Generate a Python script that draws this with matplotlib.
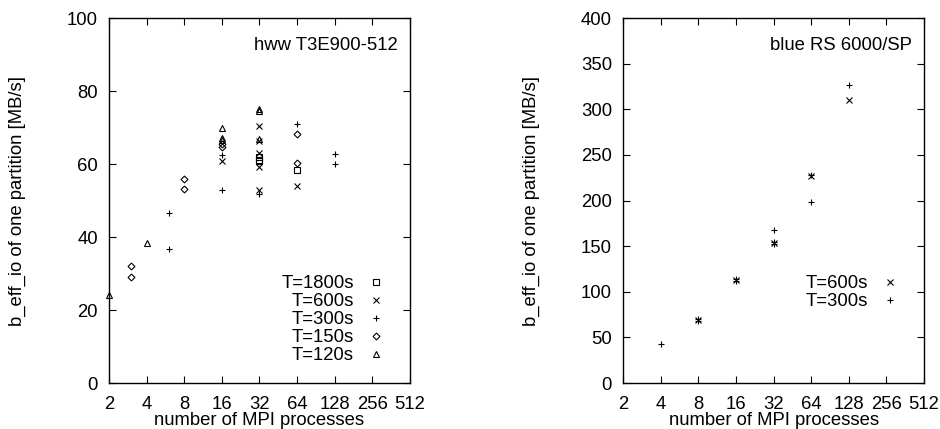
import matplotlib
matplotlib.use('Agg')
import matplotlib.pyplot as plt

plt.rcParams['font.family'] = ['Liberation Sans', 'DejaVu Sans']
plt.rcParams['font.size'] = 13.3

# left panel: hww T3E900-512
t1800_x = [32, 32, 32, 64]
t1800_y = [61.8, 61.2, 60.7, 58.3]
t600_x = [16, 32, 32, 32, 32, 32, 64]
t600_y = [60.7, 70.5, 66.2, 63.0, 59.3, 52.8, 54.1]
t300_x = [6, 6, 16, 16, 32, 64, 128, 128]
t300_y = [46.6, 36.6, 62.6, 52.8, 51.8, 71.0, 62.8, 60.1]
t150_x = [3, 3, 8, 8, 16, 16, 64, 64]
t150_y = [32.0, 29.0, 55.8, 53.3, 65.5, 64.8, 68.3, 60.3]
t120_x = [2, 4, 16, 16, 16, 32, 32, 32]
t120_y = [24.0, 38.5, 69.9, 67.2, 66.5, 75.0, 74.6, 66.8]

# right panel: blue RS 6000/SP
b600_x = [8, 16, 32, 64, 128]
b600_y = [69.5, 113.0, 153.5, 227.0, 310.0]
b300_x = [4, 8, 8, 16, 16, 32, 32, 32, 64, 64, 128]
b300_y = [43.0, 70.5, 68.5, 114.5, 111.5, 167.3, 155.0, 152.3, 228.5, 198.5, 326.6]

xticks = [2, 4, 8, 16, 32, 64, 128, 256, 512]

fig = plt.figure(figsize=(9.4, 4.29), dpi=100)
ax1 = fig.add_axes([0.116, 0.107, 0.320, 0.851])
ax2 = fig.add_axes([0.663, 0.107, 0.320, 0.851])

ms = 4.5
mew = 0.8

def style(ax, ylim, yticks, title):
    ax.set_xscale('log', base=2)
    ax.set_xlim(2, 512)
    ax.set_ylim(*ylim)
    ax.set_xticks(xticks)
    ax.set_xticklabels([str(t) for t in xticks])
    ax.minorticks_off()
    ax.set_yticks(yticks)
    ax.tick_params(direction='in', top=True, right=True, length=5, width=0.8)
    ax.tick_params(axis='x', pad=9)
    ax.tick_params(axis='y', pad=8)
    ax.set_xlabel('number of MPI processes')
    ax.set_ylabel('b_eff_io of one partition [MB/s]')
    ax.xaxis.set_label_coords(0.5, -0.08)
    ax.yaxis.set_label_coords(-0.275, 0.5)
    ax.text(0.958, 0.926, title, transform=ax.transAxes, ha='right', va='center')
    for s in ax.spines.values():
        s.set_linewidth(1.0)

def pts(ax, x, y, marker, label, size=ms):
    ax.plot(x, y, linestyle='none', marker=marker, markersize=size,
            markerfacecolor='none', markeredgecolor='black', markeredgewidth=mew,
            label=label, clip_on=False)

pts(ax1, t1800_x, t1800_y, 's', 'T=1800s', 4)
pts(ax1, t600_x, t600_y, 'x', 'T=600s')
pts(ax1, t300_x, t300_y, '+', 'T=300s', 5)
pts(ax1, t150_x, t150_y, 'D', 'T=150s', 3.5)
pts(ax1, t120_x, t120_y, '^', 'T=120s')
style(ax1, (0, 100), [0, 20, 40, 60, 80, 100], 'hww T3E900-512')

pts(ax2, b600_x, b600_y, 'x', 'T=600s')
pts(ax2, b300_x, b300_y, '+', 'T=300s', 5)
style(ax2, (0, 400), [0, 50, 100, 150, 200, 250, 300, 350, 400], 'blue RS 6000/SP')

for ax, anchor in [(ax1, (0.93, 0.052)), (ax2, (0.93, 0.20))]:
    ax.legend(loc='lower right', bbox_to_anchor=anchor, frameon=False,
              markerfirst=False, handlelength=1.4, handletextpad=0.5,
              labelspacing=0.05, borderaxespad=0, borderpad=0)

fig.savefig('out.png', dpi=100)
